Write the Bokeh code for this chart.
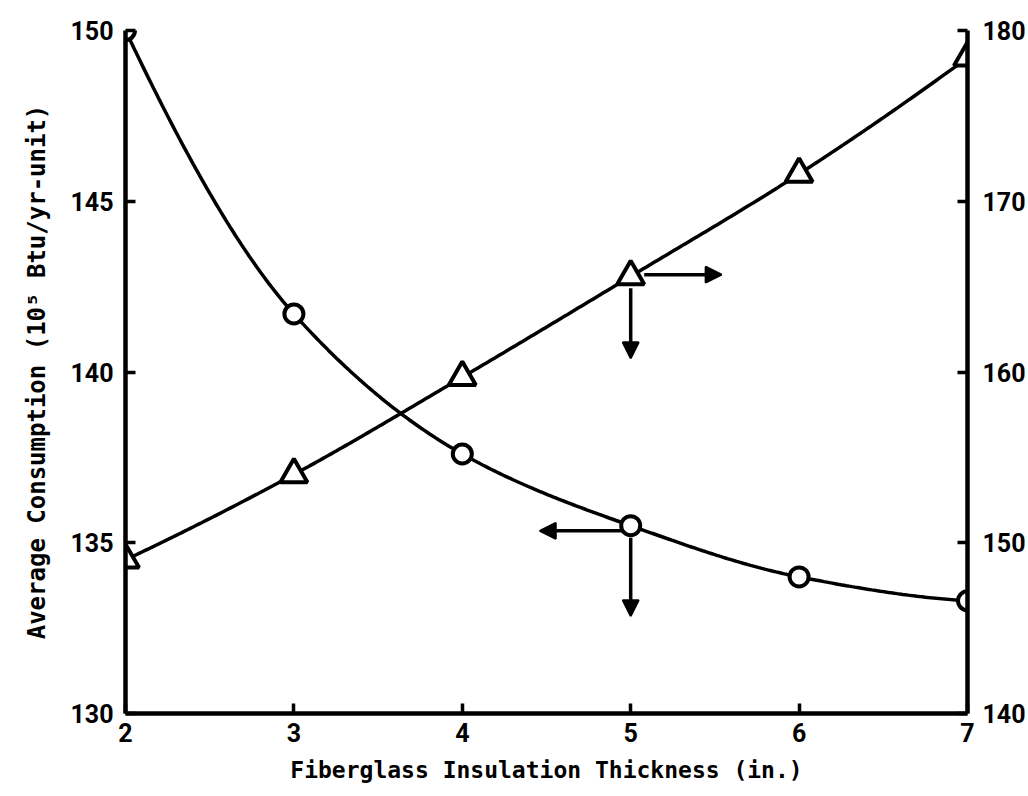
import numpy as np
from bokeh.plotting import figure
from bokeh.models import LinearAxis, Range1d, Arrow, NormalHead, FixedTicker
from bokeh.embed import file_html
from bokeh.resources import INLINE

# ---- data ----
thickness = [2, 3, 4, 5, 6, 7]
consumption = [150.0, 141.7, 137.6, 135.5, 134.0, 133.3]      # left axis, circles
right_series = [149.0, 154.0, 159.7, 165.6, 171.6, 178.4]      # right axis, triangles
x_ticks = [2, 3, 4, 5, 6, 7]
left_ticks = [130, 135, 140, 145, 150]
right_ticks = [140, 150, 160, 170, 180]
x_label = "Fiberglass Insulation Thickness (in.)"
y_label = "Average Consumption (10\u2075 Btu/yr-unit)"


def pchip(x, y, n=300):
    x = np.asarray(x, float)
    y = np.asarray(y, float)
    h = np.diff(x)
    d = np.diff(y) / h
    m = np.zeros_like(y)
    for k in range(1, len(x) - 1):
        if d[k - 1] * d[k] > 0:
            w1 = 2 * h[k] + h[k - 1]
            w2 = h[k] + 2 * h[k - 1]
            m[k] = (w1 + w2) / (w1 / d[k - 1] + w2 / d[k])
    def end(h0, h1, d0, d1):
        v = ((2 * h0 + h1) * d0 - h0 * d1) / (h0 + h1)
        if np.sign(v) != np.sign(d0):
            v = 0.0
        elif np.sign(d0) != np.sign(d1) and abs(v) > abs(3 * d0):
            v = 3 * d0
        return v
    m[0] = end(h[0], h[1], d[0], d[1])
    m[-1] = end(h[-1], h[-2], d[-1], d[-2])
    xs = np.linspace(x[0], x[-1], n)
    idx = np.clip(np.searchsorted(x, xs) - 1, 0, len(x) - 2)
    t = (xs - x[idx]) / h[idx]
    h00 = 2 * t**3 - 3 * t**2 + 1
    h10 = t**3 - 2 * t**2 + t
    h01 = -2 * t**3 + 3 * t**2
    h11 = t**3 - t**2
    ys = h00 * y[idx] + h10 * h[idx] * m[idx] + h01 * y[idx + 1] + h11 * h[idx] * m[idx + 1]
    return xs, ys


p = figure(width=1028, height=796,
           x_range=Range1d(2, 7), y_range=Range1d(130, 150),
           output_backend="svg", toolbar_location=None,
           min_border_left=125, min_border_right=60,
           min_border_top=30, min_border_bottom=83)
p.extra_y_ranges = {"right": Range1d(140, 180)}

p.xgrid.visible = False
p.ygrid.visible = False
p.outline_line_color = None
p.background_fill_color = "white"
p.border_fill_color = "white"

tick_font = "Roboto"
tick_size = "25px"

right_axis = LinearAxis(y_range_name="right")
p.add_layout(right_axis, "right")

for ax in [p.xaxis[0], p.yaxis[0], right_axis]:
    ax.axis_line_width = 4.5
    ax.axis_line_color = "black"
    ax.major_tick_in = 10
    ax.major_tick_out = 0
    ax.major_tick_line_width = 3.5
    ax.major_tick_line_color = "black"
    ax.minor_tick_line_color = None
    ax.major_label_text_font = tick_font
    ax.major_label_text_font_size = tick_size
    ax.major_label_text_font_style = "bold"
    ax.major_label_text_color = "black"
    ax.axis_label_text_font = "DejaVu Sans Mono"
    ax.axis_label_text_font_style = "bold"
    ax.axis_label_text_color = "black"

p.xaxis[0].ticker = FixedTicker(ticks=x_ticks)
p.yaxis[0].ticker = FixedTicker(ticks=left_ticks)
right_axis.ticker = FixedTicker(ticks=right_ticks)

p.xaxis[0].axis_label = x_label
p.xaxis[0].axis_label_text_font_size = "23px"
p.xaxis[0].major_label_standoff = 9
p.xaxis[0].axis_label_standoff = 12

p.yaxis[0].axis_label = y_label
p.yaxis[0].axis_label_text_font_size = "24px"
p.yaxis[0].major_label_standoff = 12
p.yaxis[0].axis_label_standoff = 16

right_axis.major_label_standoff = 15

# curves
cx, cy = pchip(thickness, consumption)
p.line(cx, cy, line_width=3.5, line_color="black")
tx, ty = pchip(thickness, right_series)
p.line(tx, ty, line_width=3.5, line_color="black", y_range_name="right")

# markers
p.scatter(thickness, consumption, marker="circle", size=19,
          line_color="black", line_width=4, fill_color="white")
p.scatter(thickness, right_series, marker="triangle", size=27,
          line_color="black", line_width=4, fill_color="white",
          y_range_name="right")

# arrows indicating which axis each curve uses (at x = 5)
xi = thickness[3]
head = dict(size=16, fill_color="black", line_color="black", line_width=2)

# triangle series -> right axis
ty5 = right_series[3]
p.add_layout(Arrow(end=NormalHead(**head), x_start=xi + 0.08, y_start=ty5 + 0.1,
                   x_end=xi + 0.54, y_end=ty5 + 0.1, line_width=3.5,
                   y_range_name="right"))
p.add_layout(Arrow(end=NormalHead(**head), x_start=xi, y_start=ty5 - 0.7,
                   x_end=xi, y_end=ty5 - 4.8, line_width=3.5,
                   y_range_name="right"))

# circle series -> left axis
cy5 = consumption[3]
p.add_layout(Arrow(end=NormalHead(**head), x_start=xi - 0.04, y_start=cy5 - 0.15,
                   x_end=xi - 0.54, y_end=cy5 - 0.15, line_width=3.5))
p.add_layout(Arrow(end=NormalHead(**head), x_start=xi, y_start=cy5 - 0.35,
                   x_end=xi, y_end=cy5 - 2.65, line_width=3.5))

open("out.html", "w").write(file_html(p, INLINE))
